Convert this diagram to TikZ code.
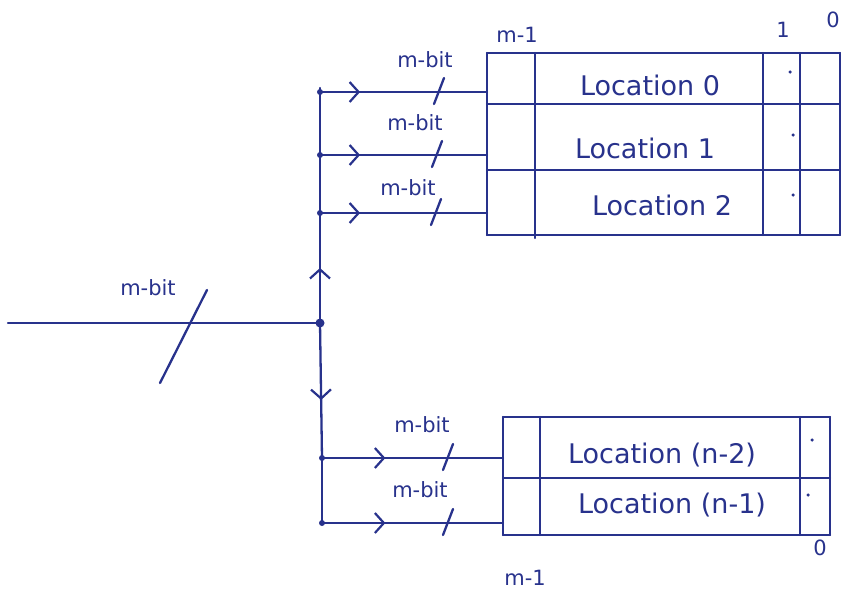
\documentclass[tikz,border=0pt]{standalone}
\usepackage{fontspec}
\setmainfont{DejaVu Sans}
\usetikzlibrary{decorations.markings,arrows.meta}
\definecolor{ink}{RGB}{40,50,140}
\begin{document}
\begin{tikzpicture}[x=1pt,y=-1pt,
  wire/.style={draw=ink, line width=2.3pt, line cap=round},
  chev/.style={postaction={decorate}, decoration={markings, mark=at position #1 with {\arrow{Straight Barb[length=9pt,width=20pt,line width=2.2pt]}}}},
  loc/.style={font=\fontsize{27}{30}\selectfont, text=ink},
  lbl/.style={font=\fontsize{21}{23}\selectfont, text=ink},
  jdot/.style={circle, fill=ink, inner sep=0pt, minimum size=#1},
  jdot/.default=6pt,
  pdot/.style={circle, fill=ink, inner sep=0pt, minimum size=3.5pt}]
\useasboundingbox (0,0) rectangle (841,597);

% ---- top memory block ----
\draw[wire] (487,53) -- (840,53);
\draw[wire] (487,104) -- (840,104);
\draw[wire] (487,170) -- (840,170);
\draw[wire] (487,235) -- (840,235);
\draw[wire] (487,53) -- (487,235);
\draw[wire] (535,53) -- (535,238);
\draw[wire] (763,53) -- (763,235);
\draw[wire] (800,53) -- (800,235);
\draw[wire] (840,53) -- (840,235);
\node[loc] (l0) at (650,85) {Location 0};
\node[loc] (l1) at (645,148) {Location 1};
\node[loc] (l2) at (662,205) {Location 2};
\node[pdot] (d0) at (790,72) {};
\node[pdot] (d1) at (793,135) {};
\node[pdot] (d2) at (793,195) {};
\node[lbl] (tm1) at (517,35) {m-1};
\node[lbl] (t1) at (783,30) {1};
\node[lbl] (t0) at (833,20) {0};

% ---- bottom memory block ----
\draw[wire] (503,417) -- (830,417);
\draw[wire] (503,478) -- (830,478);
\draw[wire] (503,535) -- (830,535);
\draw[wire] (503,417) -- (503,535);
\draw[wire] (540,417) -- (540,535);
\draw[wire] (800,417) -- (800,535);
\draw[wire] (830,417) -- (830,535);
\node[loc] (l3) at (662,455) {Location (n-2)};
\node[loc] (l4) at (672,505) {Location (n-1)};
\node[pdot] (d3) at (812,440) {};
\node[pdot] (d4) at (808,495) {};
\node[lbl] (b0) at (820,548) {0};
\node[lbl] (bm1) at (525,578) {m-1};

% ---- bus junctions and box inputs ----
\node[jdot=9pt] (jm) at (320,323) {};
\coordinate (in) at (8,323);
\coordinate (top) at (320,88);
\node[jdot] (j0) at (320,92) {};
\node[jdot] (j1) at (320,155) {};
\node[jdot] (j2) at (320,213) {};
\node[jdot] (j3) at (322,458) {};
\node[jdot] (j4) at (322,523) {};
\coordinate (e0) at (487,92);
\coordinate (e1) at (487,155);
\coordinate (e2) at (487,213);
\coordinate (e3) at (503,458);
\coordinate (e4) at (503,523);

% input line
\draw[wire] (in) -- (jm.center);
\draw[wire] (160,383) -- (207,290);
\node[lbl] (mi) at (148,288) {m-bit};

% vertical bus
\draw[wire] (top) -- (j0.center) -- (j1.center) -- (j2.center);
\draw[wire, chev=0.5] (jm.center) -- (j2.center);
\draw[wire, chev=0.57] (jm.center) -- (j3.center);
\draw[wire] (j3.center) -- (j4.center);

% branches
\draw[wire, chev=0.24] (j0.center) -- (e0);
\draw[wire, chev=0.24] (j1.center) -- (e1);
\draw[wire, chev=0.24] (j2.center) -- (e2);
\draw[wire, chev=0.35] (j3.center) -- (e3);
\draw[wire, chev=0.35] (j4.center) -- (e4);

% bit-width slashes
\draw[wire] (434,104) -- (444,78);
\draw[wire] (432,167) -- (442,141);
\draw[wire] (431,225) -- (441,199);
\draw[wire] (443,470) -- (453,444);
\draw[wire] (443,535) -- (453,509);
\node[lbl] (m0) at (425,60) {m-bit};
\node[lbl] (m1) at (415,123) {m-bit};
\node[lbl] (m2) at (408,188) {m-bit};
\node[lbl] (m3) at (422,425) {m-bit};
\node[lbl] (m4) at (420,490) {m-bit};
\end{tikzpicture}
\end{document}
